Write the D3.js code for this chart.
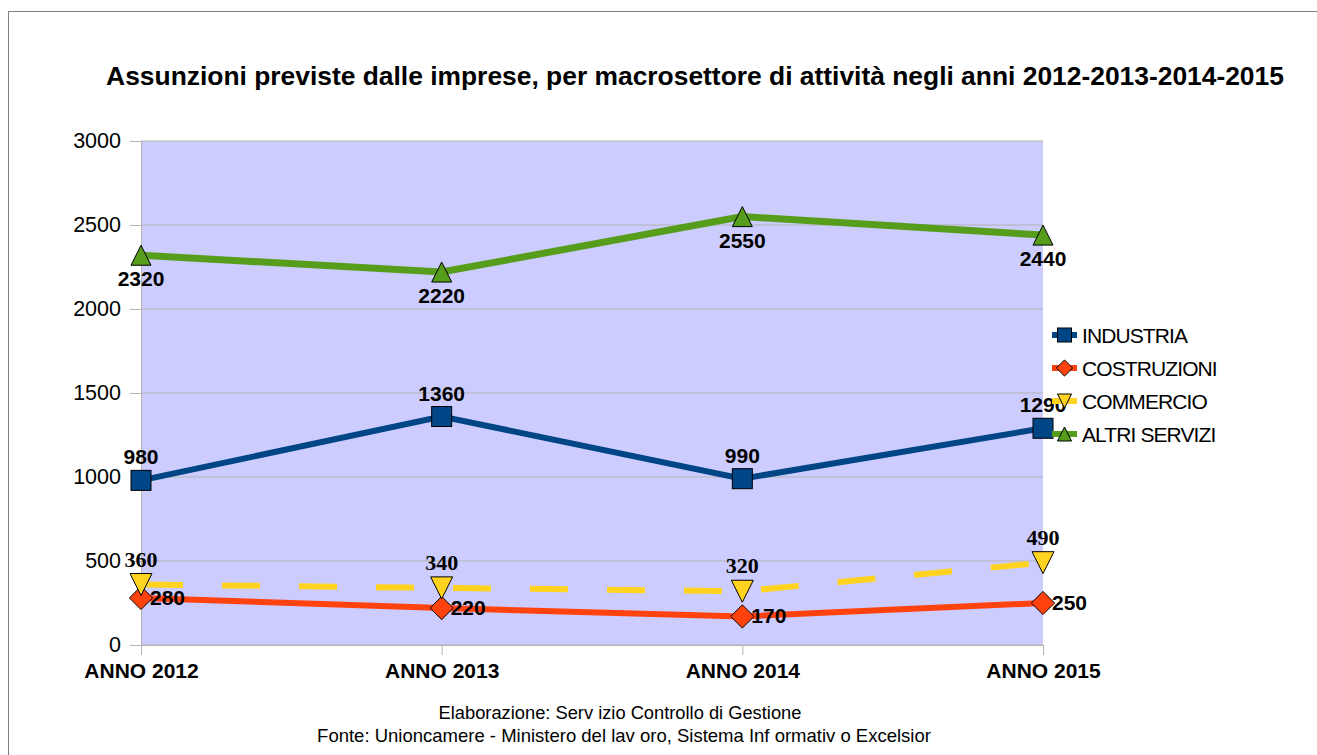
<!DOCTYPE html>
<meta charset="utf-8">
<script src="https://d3js.org/d3.v7.min.js"></script>
<style>
  body { margin: 0; background: #fff; }
  text { font-family: "Liberation Sans", Arial, sans-serif; }
</style>
<div id="my_dataviz"></div>
<script>

  // data
  var categories = ["ANNO 2012", "ANNO 2013", "ANNO 2014", "ANNO 2015"];
  var industria = [980, 1360, 990, 1290];
  var costruzioni = [280, 220, 170, 250];
  var commercio = [360, 340, 320, 490];
  var altriServizi = [2320, 2220, 2550, 2440];
  var yTicks = [0, 500, 1000, 1500, 2000, 2500, 3000];

  var seriesNames = ["INDUSTRIA", "COSTRUZIONI", "COMMERCIO", "ALTRI SERVIZI"];
  var seriesValues = [industria, costruzioni, commercio, altriServizi];
  var colors = ["#004586", "#ff420e", "#ffd320", "#579d1c"];

  var W = 1317, H = 755;
  var margin = {top: 141, left: 141, right: 274, bottom: 110};
  var width = W - margin.left - margin.right,
      height = H - margin.top - margin.bottom;

  var svg = d3.select("#my_dataviz")
    .append("svg")
      .attr("width", W)
      .attr("height", H);

  // outer frame
  svg.append("rect")
    .attr("x", 8.5).attr("y", 11.5)
    .attr("width", W).attr("height", H)
    .attr("fill", "none").attr("stroke", "#808080").attr("stroke-width", 1);

  // title
  svg.append("text")
    .attr("x", 695).attr("y", 85)
    .attr("text-anchor", "middle")
    .style("font-size", "26.4px").style("font-weight", "bold")
    .text("Assunzioni previste dalle imprese, per macrosettore di attività negli anni 2012-2013-2014-2015");

  var g = svg.append("g")
    .attr("transform", "translate(" + margin.left + "," + margin.top + ")");

  var x = d3.scalePoint().domain(categories).range([0, width]);
  var y = d3.scaleLinear().domain([0, 3000]).range([height, 0]);

  // plot background
  g.append("rect")
    .attr("width", width).attr("height", height)
    .attr("fill", "#ccccff");

  // grid
  g.selectAll(".grid").data(yTicks).enter().append("line")
    .attr("x1", 0).attr("x2", width)
    .attr("y1", function(d) { return y(d); })
    .attr("y2", function(d) { return y(d); })
    .attr("stroke", "#b3b3b3");

  // Y axis
  var yAxis = g.append("g")
    .call(d3.axisLeft(y).tickValues(yTicks).tickSize(11).tickPadding(9).tickFormat(d3.format("d")));
  yAxis.select(".domain").attr("stroke", "#b3b3b3");
  yAxis.selectAll(".tick line").attr("stroke", "#b3b3b3");
  yAxis.selectAll("text")
    .style("font-size", "21.5px").attr("fill", "#000")
    .style("font-family", "'Liberation Sans', Arial, sans-serif");

  // X axis
  var xAxis = g.append("g")
    .attr("transform", "translate(0," + height + ")")
    .call(d3.axisBottom(x).tickSize(10).tickPadding(23));
  xAxis.select(".domain").attr("stroke", "#b3b3b3");
  xAxis.selectAll(".tick line").attr("stroke", "#b3b3b3");
  xAxis.selectAll("text")
    .attr("dy", null)
    .style("font-size", "21px").style("font-weight", "bold").attr("fill", "#000")
    .style("font-family", "'Liberation Sans', Arial, sans-serif");

  var line = d3.line()
    .x(function(d, i) { return x(categories[i]); })
    .y(function(d) { return y(d); });

  // lines
  var lineWidths = [6, 6, 6, 7];
  seriesValues.forEach(function(vals, s) {
    g.append("path")
      .datum(vals)
      .attr("fill", "none")
      .attr("stroke", colors[s])
      .attr("stroke-width", lineWidths[s])
      .attr("stroke-dasharray", s === 2 ? "38,39" : null)
      .attr("stroke-dashoffset", s === 2 ? -4 : 0)
      .attr("d", line);
  });

  // marker shapes
  function marker(sel, s, size) {
    if (s === 0) {
      sel.append("rect")
        .attr("x", -size / 2).attr("y", -size / 2)
        .attr("width", size).attr("height", size);
    } else if (s === 1) {
      var r = size * 0.58;
      sel.append("path").attr("d", "M0," + (-r) + "L" + r + ",0L0," + r + "L" + (-r) + ",0Z");
    } else if (s === 2) {
      var h = size / 2;
      sel.append("path").attr("d", "M" + (-h) + "," + (-h) + "L" + h + "," + (-h) + "L0," + h + "Z");
    } else {
      var h2 = size / 2;
      sel.append("path").attr("d", "M" + (-h2) + "," + h2 + "L" + h2 + "," + h2 + "L0," + (-h2) + "Z");
    }
    sel.selectAll("*")
      .attr("fill", colors[s])
      .attr("stroke", "#000").attr("stroke-width", 1);
  }

  var markerSizes = [20, 20, 22, 20];
  seriesValues.forEach(function(vals, s) {
    vals.forEach(function(v, i) {
      var m = g.append("g")
        .attr("transform", "translate(" + x(categories[i]) + "," + y(v) + ")");
      marker(m, s, markerSizes[s]);
    });
  });

  // data labels
  seriesValues.forEach(function(vals, s) {
    vals.forEach(function(v, i) {
      var px = x(categories[i]), py = y(v);
      var t = g.append("text").text(v).attr("fill", "#000");
      if (s === 0) {
        t.attr("x", px).attr("y", py - 16).attr("text-anchor", "middle")
          .style("font-size", "21px").style("font-weight", "bold");
      } else if (s === 1) {
        t.attr("x", px + 9).attr("y", py + 7).attr("text-anchor", "start")
          .style("font-size", "21px").style("font-weight", "bold");
      } else if (s === 2) {
        t.attr("x", px).attr("y", py - 18).attr("text-anchor", "middle")
          .style("font-size", "22px").style("font-weight", "bold")
          .style("font-family", "'Liberation Serif', 'Times New Roman', serif");
      } else {
        t.attr("x", px).attr("y", py + 31).attr("text-anchor", "middle")
          .style("font-size", "21px").style("font-weight", "bold");
      }
    });
  });

  // legend
  var legend = svg.append("g")
    .attr("transform", "translate(1052,335)");
  seriesNames.forEach(function(name, s) {
    var row = legend.append("g").attr("transform", "translate(0," + (s * 33) + ")");
    row.append("line")
      .attr("x1", 0).attr("x2", 25).attr("y1", 0).attr("y2", 0)
      .attr("stroke", colors[s]).attr("stroke-width", 6);
    var m = row.append("g").attr("transform", "translate(12.5,0)");
    marker(m, s, 14);
    row.append("text")
      .attr("x", 30).attr("y", 8)
      .style("font-size", "21px").style("letter-spacing", "-0.9px")
      .attr("fill", "#000")
      .text(name);
  });

  // footer
  svg.append("text")
    .attr("x", 620).attr("y", 719)
    .attr("text-anchor", "middle")
    .style("font-size", "18.3px")
    .text("Elaborazione: Serv izio Controllo di Gestione");
  svg.append("text")
    .attr("x", 624).attr("y", 742)
    .attr("text-anchor", "middle")
    .style("font-size", "18.5px")
    .text("Fonte: Unioncamere - Ministero del lav oro, Sistema Inf ormativ o Excelsior");

</script>
